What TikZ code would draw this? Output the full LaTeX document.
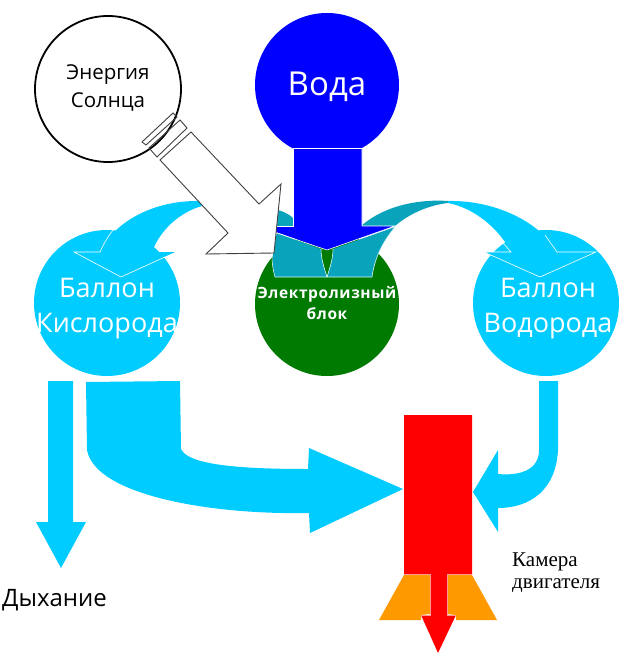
\documentclass[tikz,border=0pt]{standalone}
\usepackage{fontspec}
\setmainfont{Open Sans}
\newfontfamily\serifcam{Liberation Serif}
\newfontfamily\spacedbold[LetterSpace=4]{Open Sans Bold}
\definecolor{cy}{HTML}{00CCFF}
\definecolor{tl}{HTML}{0AA3BC}
\definecolor{wat}{HTML}{0000FF}
\definecolor{gr}{HTML}{007A00}
\definecolor{org}{HTML}{FF9900}
\tikzset{
  x=1pt,y=-1pt,
  ball/.style={circle,minimum size=146pt,inner sep=0pt,fill=cy},
  lbl/.style={white,align=center,font=\fontsize{27}{35}\selectfont},
  outl/.style={draw=white,line width=.6pt},
  hand/.style={draw=black!75,line width=.9pt},
}
\begin{document}
\begin{tikzpicture}
\useasboundingbox (0,0) rectangle (640,661);
\fill[white] (0,0) rectangle (640,661);
% balloons
\node[ball] (ox) at (107,303) {};
\node[ball] (hy) at (546,303) {};
\node[circle,minimum size=144pt,inner sep=0pt,fill=gr] (el) at (327,304) {};
\node[circle,minimum size=144pt,inner sep=0pt,fill=wat] (wa) at (327,85) {};
\node[circle,minimum size=146pt,inner sep=0pt,draw=black,line width=1.8pt] (sun) at (108,89) {};
% curved arrow to oxygen
\fill[cy] (200,201) .. controls (150,200) and (112,225) .. (100,252) -- (74,252) -- (121,277) -- (175,252) -- (152,252) .. controls (160,230) and (180,212) .. (202,206) -- cycle;
\draw[outl] (113,230) .. controls (107,238) and (103,245) .. (100,252) -- (74,252) -- (121,277) -- (165,257);
% curved arrow to hydrogen
\fill[cy] (448,201) .. controls (495,200) and (540,222) .. (557,252) -- (596,252) -- (540,277) -- (484,252) -- (511,252) .. controls (500,230) and (475,208) .. (448,203) -- cycle;
\draw[outl] (503,243) -- (511,252) -- (484,252) -- (540,277) -- (596,252) -- (557,252) -- (545,235);
% teal
\fill[tl] (448,201) .. controls (420,199) and (385,205) .. (361,226) -- (395,226) .. controls (410,213) and (430,205) .. (448,203) -- cycle;
\fill[tl] (278,210) .. controls (285,212) and (290,215) .. (293,218) -- (293,226) -- (270,226) -- cycle;
\fill[tl] (277,233) -- (321,249) .. controls (321,260) and (325,270) .. (327,277) -- (275,277) .. controls (272,265) and (271,255) .. (277,233) -- cycle;
\fill[tl] (395,227) -- (333,249) .. controls (333,260) and (329,270) .. (327,277) -- (372,277) .. controls (374,262) and (380,245) .. (395,227) -- cycle;
\draw[outl,draw=white!85!cy] (321,249) .. controls (321,260) and (325,270) .. (327,277) -- (275,277) .. controls (273,270) and (272,263) .. (272,256);
\draw[outl,draw=white!85!cy] (333,249) .. controls (333,260) and (329,270) .. (327,277) -- (372,277) .. controls (374,262) and (380,245) .. (395,227);
% water arrow
\fill[wat] (293,148) -- (362,148) -- (362,226) -- (395,226) -- (327,250) -- (259,226) -- (293,226) -- cycle;
\draw[white,line width=.6pt] (293,148) -- (362,148);
\draw[white,line width=.6pt] (293,148) -- (293,226) -- (277,226);
\draw[white,line width=.6pt] (362,148) -- (362,226) -- (395,226) -- (327,250) -- (277,233);
% sun arrow
\draw[hand] (142,142) -- (173,113) -- (177,117) -- (146,145) -- cycle;
\draw[hand] (149,148) -- (180,120) -- (187,128) -- (157,157) -- cycle;
\draw[hand,fill=white] (160,160) -- (191,132) -- (259,204) -- (281,184) -- (274,253) -- (206,254) -- (228,233) -- cycle;
% oxygen output arrows
\fill[cy] (48,381) -- (73,381) -- (73,522) -- (86,522) -- (61,568) -- (36,522) -- (48,522) -- cycle;
\fill[cy] (86,382) -- (180,381) -- (181,449) .. controls (188,465) and (240,469) .. (308,469) -- (309,448) -- (403,489) -- (310,533) -- (309,513) .. controls (210,515) and (95,495) .. (87,450) -- cycle;
% hydrogen output
\fill[cy] (539,381) -- (558,381) -- (558,450) .. controls (556,490) and (530,508) .. (498,508) -- (498,532) -- (473,492) -- (498,450) -- (498,474) .. controls (520,476) and (539,470) .. (539,450) -- cycle;
% rocket
\fill[org] (404,575) -- (430,575) -- (430,614) -- (421,615) -- (421,620) -- (379,620) -- cycle;
\fill[org] (472,575) -- (447,575) -- (447,614) -- (456,615) -- (456,620) -- (497,620) -- cycle;
\fill[red] (404,415) -- (472,415) -- (472,574) -- (447,574) -- (447,615) -- (456,615) -- (438,653) -- (421,615) -- (430,615) -- (430,574) -- (404,574) -- cycle;
\draw[white!60!red,line width=.5pt] (404,574.5) -- (430,574.5) -- (430,615) -- (421,615);
\draw[white!60!red,line width=.5pt] (472,574.5) -- (447,574.5) -- (447,615) -- (456,615);
% texts
\node[align=center,font=\fontsize{20.5}{28}\selectfont] (t1) at (108,88) {Энергия\\Солнца};
\node[white,font=\fontsize{33}{36}\selectfont] (t2) at (327,87) {Вода};
\node[lbl] (t3) at (107,309) {Баллон\\Кислорода};
\node[lbl] (t4) at (548,309) {Баллон\\Водорода};
\node[white,align=center,font=\spacedbold\fontsize{15.5}{21}\selectfont] (t5) at (327,303) {Электролизный\\блок};
\node[anchor=west,inner sep=0pt,font=\fontsize{24}{25}\selectfont] (t6) at (2,600) {Дыхание};
\node[anchor=west,inner sep=0pt,align=left,font=\serifcam\fontsize{21}{22}\selectfont] (t7) at (512,573) {Камера\\двигателя};
\end{tikzpicture}
\end{document}
